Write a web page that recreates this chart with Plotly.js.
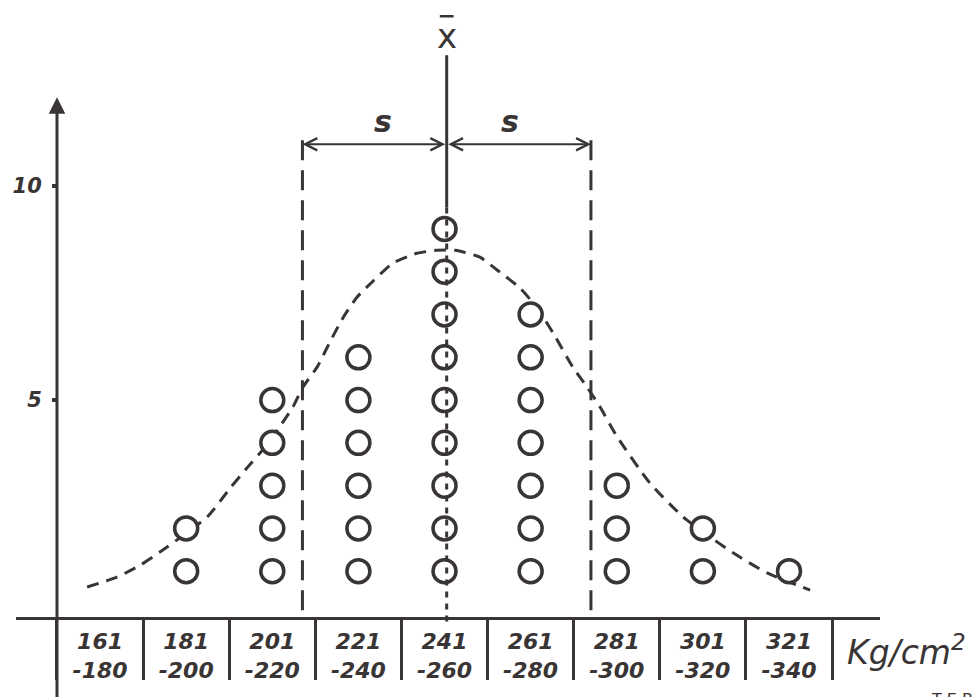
<!DOCTYPE html>
<html>
<head>
<meta charset="utf-8">
<script src="https://cdn.plot.ly/plotly-3.0.1.min.js"></script>
<style>
    html, body { margin: 0; padding: 0; background: #fff; }
    #chart { width: 975px; height: 697px; }
</style>
</head>
<body>
<div id="chart"></div>
<script>
// ── Data ──

const classLow  = [161, 181, 201, 221, 241, 261, 281, 301, 321];
const classHigh = [180, 200, 220, 240, 260, 280, 300, 320, 340];
const counts    = [0, 2, 5, 6, 9, 7, 3, 2, 1];

// hand-drawn fitted curve
const curveX = [167.5, 174.4, 179.8, 184.4, 190.0, 195.6, 200.7, 204.6, 208.8, 212.8, 215.3, 217.6, 220.9,
                223.9, 226.9, 230.2, 233.7, 238.5, 244.1, 248.7, 253.0, 258.7, 262.7, 268.0, 272.0, 275.7,
                280.3, 283.6, 286.6, 290.6, 298.2, 305.9, 310.5, 317.5, 325.4, 335.4];
const curveY = [0.63, 0.86, 1.14, 1.45, 1.85, 2.29, 2.94, 3.41, 3.90, 4.46, 4.84, 5.30, 5.77,
                6.36, 6.92, 7.41, 7.76, 8.20, 8.43, 8.50, 8.50, 8.34, 8.04, 7.62, 7.15, 6.57,
                5.77, 5.30, 4.84, 4.14, 3.06, 2.27, 1.92, 1.43, 0.96, 0.56];

const xbar = 251;     // mean, kg/cm²
const s    = 33.5;    // standard deviation
const yTicks = [5, 10];
const unit = "Kg/cm<sup>2</sup>";

// ── Derived ──

const ink = "#3a3535";
const bounds  = classLow.map(v => v - 0.5).concat([classHigh[classHigh.length - 1] + 0.5]);
const centers = classLow.map((lo, i) => (lo + classHigh[i]) / 2);
const labels  = classLow.map((lo, i) => lo + "<br>-" + classHigh[i]);

const dotX = [], dotY = [];
counts.forEach((n, i) => {
    for (let k = 1; k <= n; k++) {
        dotX.push(centers[i]);
        dotY.push(k);
    }
});

// ── Plot ──

const xRange = [150.98, 351.63];
const yRange = [-1.94, 14.35];
const axisY  = 0.1133;          // paper position of the x axis
const handFont = { family: "DejaVu Sans", color: ink, style: "italic", weight: "bold" };

const traces = [
    {
        x: curveX, y: curveY, type: "scatter", mode: "lines",
        line: { color: ink, width: 3, dash: "12px,8px", shape: "spline", smoothing: 0.6 },
        hoverinfo: "skip"
    },
    {
        x: dotX, y: dotY, type: "scatter", mode: "markers",
        marker: { symbol: "circle", size: 23, color: "#fff", line: { color: ink, width: 3.5 } },
        hoverinfo: "x+y"
    },
    {
        // carries the class labels under the axis
        x: centers, y: counts, xaxis: "x2", type: "scatter", mode: "markers",
        marker: { opacity: 0 }, hoverinfo: "skip"
    }
];

const layout = {
    width: 975, height: 697,
    margin: { l: 0, r: 0, t: 0, b: 0 },
    paper_bgcolor: "#fff", plot_bgcolor: "#fff",
    showlegend: false,
    xaxis: {
        domain: [16 / 975, 880 / 975], range: xRange,
        anchor: "free", position: axisY,
        showgrid: false, zeroline: false,
        showline: true, linecolor: ink, linewidth: 3,
        tickvals: bounds, ticktext: bounds.map(() => " "),
        ticks: "outside", ticklen: 60, tickwidth: 3, tickcolor: ink
    },
    xaxis2: {
        domain: [16 / 975, 880 / 975], range: xRange, overlaying: "x",
        anchor: "free", position: axisY,
        showgrid: false, zeroline: false, showline: false,
        tickvals: centers, ticktext: labels,
        ticks: "outside", ticklen: 4, tickcolor: "rgba(0,0,0,0)",
        tickfont: Object.assign({ size: 22 }, handFont)
    },
    yaxis: {
        domain: [0, 1], range: yRange,
        anchor: "free", position: 57 / 975,
        showgrid: false, zeroline: false, showline: false,
        tickvals: yTicks, ticks: "outside", ticklen: 5, tickwidth: 4, tickcolor: ink,
        ticklabelstandoff: 6,
        tickfont: Object.assign({ size: 21 }, handFont)
    },
    shapes: [
        // mean line: solid above the dots, broken through them
        { type: "line", xref: "x", yref: "y", x0: xbar, x1: xbar, y0: 13.06, y1: 9.5,
          line: { color: ink, width: 3 } },
        { type: "line", xref: "x", yref: "y", x0: xbar, x1: xbar, y0: 9.5, y1: -0.3,
          line: { color: ink, width: 3, dash: "6px,6px" } },
        // bar over the x of the mean label
        { type: "line", xref: "x", yref: "y", x0: xbar - 1.6, x1: xbar + 1.6, y0: 13.97, y1: 13.97,
          line: { color: ink, width: 2.5 } },
        // ±s lines
        { type: "line", xref: "x", yref: "y", x0: xbar - s, x1: xbar - s, y0: 11.07, y1: -0.1,
          line: { color: ink, width: 3, dash: "20px,10px" } },
        { type: "line", xref: "x", yref: "y", x0: xbar + s, x1: xbar + s, y0: 11.07, y1: -0.1,
          line: { color: ink, width: 3, dash: "20px,10px" } }
    ],
    annotations: [
        // y axis with arrow tip
        { x: 160.5, y: 12.08, ax: 160.5, ay: -2.2, xref: "x", yref: "y", axref: "x", ayref: "y",
          text: "", showarrow: true, arrowhead: 2, arrowsize: 1.1, arrowwidth: 3, arrowcolor: ink, standoff: 0 },
        // s arrows
        { x: xbar - s, y: 10.98, ax: xbar, ay: 10.98, xref: "x", yref: "y", axref: "x", ayref: "y",
          text: "", showarrow: true, arrowhead: 5, startarrowhead: 5, arrowside: "end+start",
          arrowsize: 1.2, startarrowsize: 1.2, arrowwidth: 2, arrowcolor: ink, standoff: 0, startstandoff: 0 },
        { x: xbar + s, y: 10.98, ax: xbar, ay: 10.98, xref: "x", yref: "y", axref: "x", ayref: "y",
          text: "", showarrow: true, arrowhead: 5, startarrowhead: 5, arrowside: "end+start",
          arrowsize: 1.2, startarrowsize: 1.2, arrowwidth: 2, arrowcolor: ink, standoff: 0, startstandoff: 0 },
        { x: xbar - s * 0.44, y: 11.5, xref: "x", yref: "y", text: "s", showarrow: false,
          font: Object.assign({ size: 30 }, handFont) },
        { x: xbar + s * 0.44, y: 11.5, xref: "x", yref: "y", text: "s", showarrow: false,
          font: Object.assign({ size: 30 }, handFont) },
        { x: xbar, y: 13.5, xref: "x", yref: "y", text: "x", showarrow: false,
          font: { family: "DejaVu Sans", size: 34, color: ink } },
        // unit
        { x: 906 / 975, y: 1 - 650 / 697, xref: "paper", yref: "paper",
          xanchor: "center", yanchor: "middle", text: unit, showarrow: false,
          font: Object.assign({ size: 33 }, handFont, { weight: "normal" }) },
        { x: 975 / 975, y: 1 - 688 / 697, xref: "paper", yref: "paper", xanchor: "right", yanchor: "top",
          text: "T E B", showarrow: false, font: { family: "DejaVu Sans", size: 16, color: ink } }
    ]
};

Plotly.newPlot("chart", traces, layout, { displayModeBar: false, staticPlot: true });
</script>
</body>
</html>
